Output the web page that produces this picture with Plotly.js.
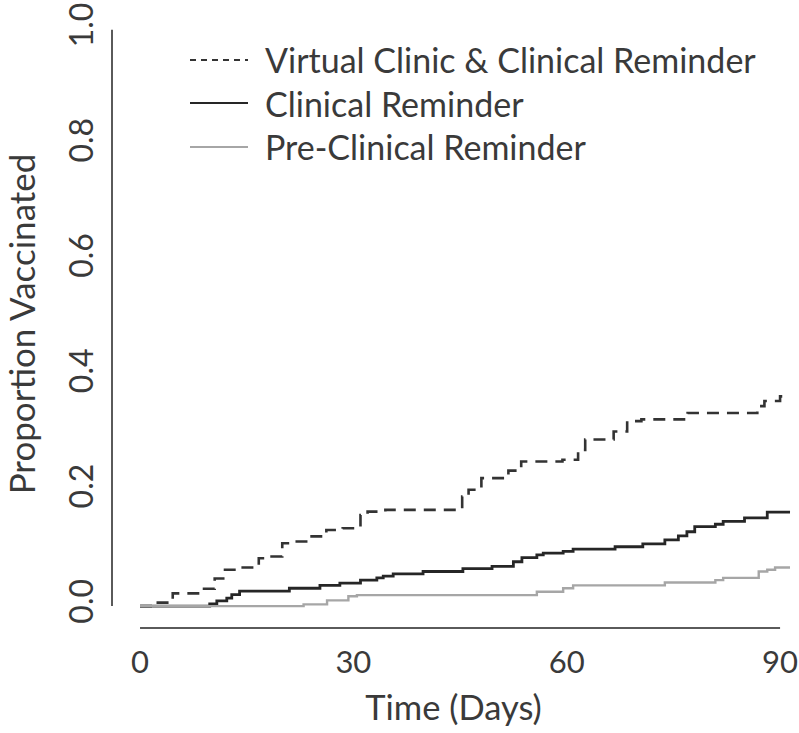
<!DOCTYPE html>
<html>
<head>
<meta charset="utf-8">
<script src="https://cdn.plot.ly/plotly-3.0.1.min.js"></script>
<style>html,body{margin:0;padding:0;background:#fff;}#chart{width:799px;height:733px;}</style>
</head>
<body>
<div id="chart"></div>
<script>
// Series names
const seriesNames = ["Virtual Clinic & Clinical Reminder", "Clinical Reminder", "Pre-Clinical Reminder"];

// Virtual Clinic & Clinical Reminder (step points: day, proportion)
const vcDays = [0, 2.5, 4.6, 8.5, 10.5, 11.7, 13.8, 16.7, 18.5, 20, 21.8, 23.8, 26.2, 28.5, 31, 32, 34.5, 45.3, 46.2, 48, 51.8, 53.6, 59.4, 61.6, 62.6, 66.6, 68.5, 70.5, 77, 86.8, 87.8, 90, 91.4];
const vcProp = [0, 0.006, 0.022, 0.030, 0.048, 0.063, 0.067, 0.083, 0.086, 0.109, 0.112, 0.121, 0.132, 0.135, 0.158, 0.164, 0.167, 0.190, 0.202, 0.222, 0.235, 0.251, 0.254, 0.271, 0.289, 0.303, 0.321, 0.324, 0.335, 0.347, 0.356, 0.364, 0.364];

// Clinical Reminder
const crDays = [0, 9.8, 10.8, 12.2, 12.9, 14, 21, 25.3, 28.1, 31, 33.3, 34.2, 35.6, 39.8, 45.4, 49.5, 52.5, 53.7, 55.8, 56.7, 59.5, 60.9, 66.8, 70.7, 73.8, 75.7, 76.9, 78, 80.9, 82, 85, 88.2, 91.4];
const crProp = [0, 0.004, 0.009, 0.014, 0.020, 0.026, 0.031, 0.036, 0.040, 0.045, 0.049, 0.052, 0.056, 0.060, 0.065, 0.069, 0.077, 0.084, 0.089, 0.092, 0.095, 0.099, 0.103, 0.108, 0.115, 0.122, 0.129, 0.138, 0.142, 0.147, 0.153, 0.163, 0.163];

// Pre-Clinical Reminder
const pcDays = [0, 23, 26.3, 29.3, 30.5, 55.8, 59.5, 60.9, 73.8, 80.9, 82, 87, 88.2, 89.3, 91.4];
const pcProp = [0, 0.003, 0.010, 0.017, 0.019, 0.025, 0.031, 0.036, 0.041, 0.045, 0.049, 0.060, 0.063, 0.067, 0.067];

// Axis ticks
const xTicks = [0, 30, 60, 90];
const yTicks = [0.0, 0.2, 0.4, 0.6, 0.8, 1.0];
const yTickText = ["0.0", "0.2", "0.4", "0.6", "0.8", "1.0"];

const FONT = "Lato, 'Open Sans', sans-serif";
const TXT = "#3a3a3a";

const styles = [
  {color: "#333333", width: 2.6, dash: "12px,8px"},
  {color: "#262626", width: 2.8, dash: "solid"},
  {color: "#a6a6a6", width: 2.4, dash: "solid"}
];
const xs = [vcDays, crDays, pcDays];
const ys = [vcProp, crProp, pcProp];

const traces = seriesNames.map((n, i) => ({
  type: "scatter", mode: "lines", name: n,
  x: xs[i], y: ys[i],
  line: {shape: "hv", color: styles[i].color, width: styles[i].width, dash: styles[i].dash},
  showlegend: false, hoverinfo: "skip"
}));

// manual legend (R-style, no box)
const legendRowsY = [60, 103, 147];
const shapes = [
  // y axis line (0 to 1)
  {type: "line", xref: "paper", yref: "y", x0: 0, x1: 0, y0: 0, y1: 1, line: {color: "#5a5a5a", width: 2}},
  // x axis line (0 to 90)
  {type: "line", xref: "x", yref: "paper", x0: 0, x1: 90, y0: 0, y1: 0, line: {color: "#5a5a5a", width: 2}}
];
const annotations = [];
seriesNames.forEach((n, i) => {
  const yp = 1 - (legendRowsY[i] - 20) / 608;
  shapes.push({type: "line", xref: "paper", yref: "paper",
    x0: (190 - 112) / 683, x1: (248 - 112) / 683, y0: yp, y1: yp,
    line: {color: styles[i].color, width: i === 2 ? 2 : 2.2, dash: i === 0 ? "6px,5px" : "solid"}});
  annotations.push({xref: "paper", yref: "paper", x: (263 - 112) / 683, y: yp,
    xanchor: "left", yanchor: "middle", text: n, showarrow: false,
    font: {family: FONT, size: 34, color: TXT}});
});

const layout = {
  width: 799, height: 733,
  margin: {l: 112, r: 4, t: 20, b: 105},
  paper_bgcolor: "#ffffff", plot_bgcolor: "#ffffff",
  font: {family: FONT, color: TXT},
  xaxis: {
    range: [-3.94, 92.1], tickvals: xTicks, ticktext: xTicks.map(String),
    showgrid: false, zeroline: false, showline: false, ticks: "",
    tickfont: {family: FONT, size: 31, color: TXT}, ticklabelstandoff: 13,
    title: {text: "Time (Days)", font: {family: FONT, size: 34.5, color: TXT}, standoff: 16}
  },
  yaxis: {
    range: [-0.038, 1.017], tickvals: yTicks, ticktext: yTickText, tickangle: -90,
    showgrid: false, zeroline: false, showline: false, ticks: "",
    tickfont: {family: FONT, size: 32, color: TXT}, ticklabelstandoff: 12,
    title: {text: "Proportion Vaccinated", font: {family: FONT, size: 35, color: TXT}, standoff: 22}
  },
  shapes: shapes,
  annotations: annotations,
  showlegend: false
};

Plotly.newPlot("chart", traces, layout, {displayModeBar: false, staticPlot: true});
</script>
</body>
</html>
